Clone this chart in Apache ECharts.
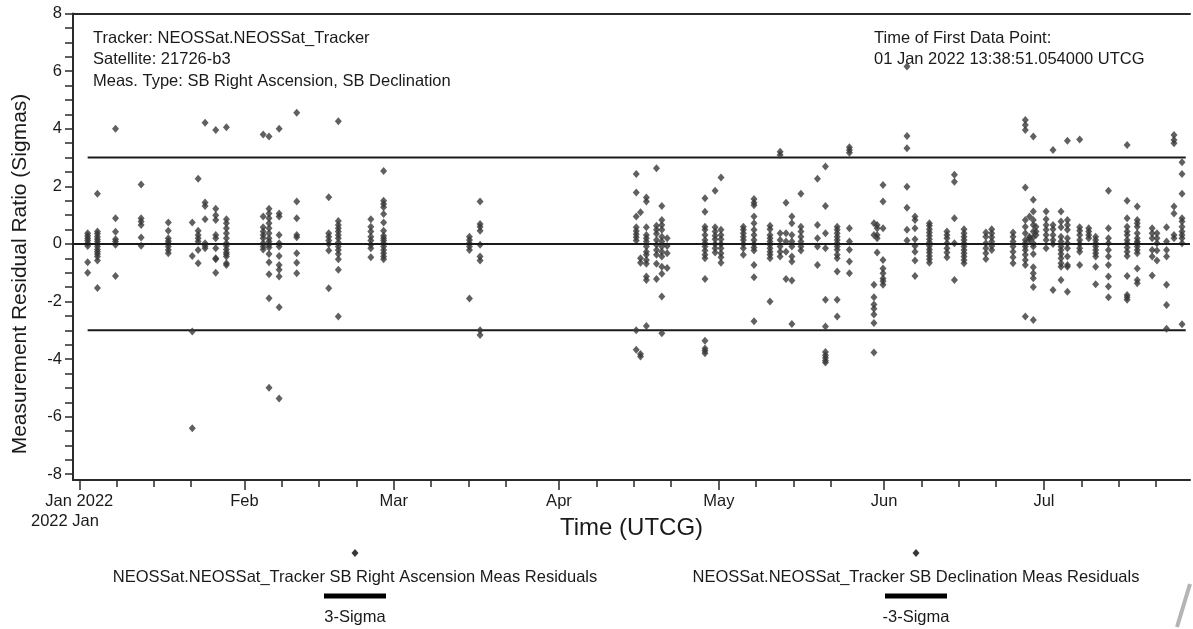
<!DOCTYPE html>
<html><head><meta charset="utf-8">
<script src="https://cdn.jsdelivr.net/npm/echarts@6/dist/echarts.min.js"></script>
<style>html,body{margin:0;padding:0;background:#fff}#c{width:1193px;height:629px}</style>
</head><body><div id="c"></div>
<script>
// ---- axis definitions ----
const monthTicks = ['2022-01-01','2022-02-01','2022-03-01','2022-04-01','2022-05-01','2022-06-01','2022-07-01'];
const monthLabels = ['Jan 2022','Feb','Mar','Apr','May','Jun','Jul'];
const weekTickDaysOfMonth = [8, 15, 22];
const yLabelValues = [-8, -6, -4, -2, 0, 2, 4, 6, 8];
const yRange = [-8.2, 8];
const xRangeDays = [-1.18, 208.4];      // days since 2022-01-01 00:00 UTC
// ---- sigma limits ----
const sigmaLevels = [3, -3];
const sigmaSpanDays = [1.57, 207.6];
// ---- residuals: [day since 2022-01-01, [sigma ratios]] ----
const raPasses = [
 [1.57,[0.37,0.20,0.02,-0.64]],
 [3.4,[1.74,0.35,0.16,0,-0.19,-0.35,-0.58]],
 [6.8,[4.0,0.42,0.08,-1.11]],
 [11.6,[2.06,0.78,0.22]],
 [16.7,[0.74,0.2,0.02,-0.21]],
 [21.2,[0.74,-3.04]],
 [22.3,[2.26,0.31,0.08,-0.67]],
 [23.6,[4.21,1.32,0.02,-0.15]],
 [25.6,[3.96,1.0,0.31,-0.15,-0.53]],
 [27.6,[4.05,0.72,0.37,0.02,-0.19,-0.36,-0.67]],
 [34.5,[3.8,0.58,0.31,0.02,-0.19]],
 [35.6,[3.73,1.06,0.72,0.37,0.08,-0.12,-0.64,-1.89]],
 [37.5,[4.0,0.95,0.02,-0.42,-0.9,-2.2]],
 [40.8,[4.56,0.89,0.23,-0.65]],
 [46.8,[1.62,0.25,0,-1.54]],
 [48.6,[4.26,0.66,0.43,0.2,-0.09,-0.35,-0.9]],
 [54.7,[0.86,0.43,0.12,-0.15]],
 [57.1,[2.53,1.39,1.04,0.46,0.2,0.02,-0.21,-0.44]],
 [73.2,[0.25,0.02,-0.21]],
 [75.2,[1.47,0.6,-0.03,-0.58,-3.16]],
 [104.5,[2.43,0.95,0.45,0.23,-3.0]],
 [105.3,[1.1,-0.65,-3.91]],
 [106.4,[1.61,0.58,0.2,-0.09,-0.38,-0.69,-1.25]],
 [108.3,[2.63,0.49,0.14,-0.21,-0.69]],
 [109.3,[1.32,0.66,0.25,-0.09,-0.44,-1.04,-3.1]],
 [110.3,[0.2,-0.32]],
 [117.4,[1.59,0.6,0.31,0.02,-0.23,-0.5,-3.36,-3.71]],
 [119.3,[1.85,0.43,0.16,-0.15]],
 [120.4,[2.31,0.31,0,-0.32,-0.65]],
 [124.6,[0.6,0.37,0.14,-0.15]],
 [126.6,[1.56,1.34,0.72,0.31,0,-0.23,-1.16]],
 [129.6,[0.63,0.31,0.08,-0.15,-0.38,-2.0]],
 [131.5,[3.2,0.37,-0.09,-0.44]],
 [132.6,[1.43,0.08,-1.22]],
 [133.7,[0.95,0.31,-0.09,-0.61,-2.78]],
 [135.4,[1.74,0.43,0.08,-0.23]],
 [138.5,[2.26,0.2,-0.73]],
 [140.0,[2.69,0.37,-1.94,-3.75,-3.95,-4.12]],
 [142.2,[0.6,0.37,0.14,-0.09,-0.38,-0.96,-2.52]],
 [144.5,[3.36,3.17,0.08,-0.61]],
 [149.1,[0.72,-1.42,-2.1,-2.45,-3.77]],
 [149.7,[0.66,0.31,-0.3]],
 [150.8,[2.05,0.54,-0.85,-1.2,-1.42]],
 [155.3,[6.16,3.32,1.26,0.12]],
 [156.8,[0.95,0.54,-0.07,-0.58]],
 [159.5,[0.72,0.51,0.28,0.05,-0.19,-0.42,-0.65]],
 [162.8,[0.43,0.2,-0.15,-0.46]],
 [164.2,[2.4,0.89,-1.25]],
 [166.0,[0.51,0.25,0.02,-0.21,-0.44,-0.67]],
 [170.1,[0.4,0.02,-0.32]],
 [171.2,[0.51,0.23,-0.07]],
 [175.2,[0.4,0.08,-0.27,-0.67]],
 [177.5,[4.3,3.96,0.83,0.37,0.02,-0.21,-0.56,-2.52]],
 [178.3,[0.95,0.2]],
 [179.0,[3.73,1.13,0.66,0.23,-0.09,-0.81,-1.19,-2.64]],
 [179.5,[0.6,0.31]],
 [181.4,[1.13,0.66,0.31,-0.15]],
 [182.7,[3.26,0.51,0.14,-1.6]],
 [184.2,[1.13,0.58,0.08,-0.21,-0.5,-0.79]],
 [185.4,[3.58,0.66,0.2,-0.15,-0.73,-1.66]],
 [187.7,[3.63,0.46,0.14,-0.15,-0.73]],
 [189.4,[0.54,0.31]],
 [190.7,[0.25,0.02,-0.21,-0.44,-1.4]],
 [193.1,[1.85,0.2,-0.21,-0.73,-1.48]],
 [196.6,[3.44,0.89,0.43,0.14,-0.12,-0.42,-1.77,-1.94]],
 [198.5,[1.3,0.72,0.37,0.08,-0.09,-0.32,-1.25]],
 [201.3,[0.54,0.2,-0.44]],
 [202.2,[0.37,0.02,-0.58]],
 [204.0,[0.58,-0.21,-1.42,-2.95]],
 [205.4,[3.78,3.5,1.06,0.2]],
 [206.9,[2.84,1.74,0.78,0.43,0.2,-2.79]]
];
const decPasses = [
 [1.57,[0.28,0.12,-0.07,-1.0]],
 [3.4,[0.43,0.25,0.08,-0.09,-0.27,-0.44,-1.53]],
 [6.8,[0.89,0.16,-0.03]],
 [11.6,[0.89,0.66,-0.06]],
 [16.7,[0.46,0.1,-0.09,-0.32]],
 [21.2,[-0.42,-6.4]],
 [22.3,[0.46,0.2,-0.21]],
 [23.6,[1.44,0.86,-0.07]],
 [25.6,[1.22,0.83,0.2,-0.5,-1.0]],
 [27.6,[0.86,0.54,0.2,-0.07,-0.3,-0.44,-0.73]],
 [34.5,[0.95,0.43,0.2,-0.09]],
 [35.6,[1.22,0.89,0.54,0.2,-0.03,-0.35,-1.05,-5.0]],
 [37.5,[1.06,0.31,-0.09,-0.73,-1.13,-5.37]],
 [40.8,[1.47,0.31,-0.32,-1.02]],
 [46.8,[0.37,0.12,-0.23]],
 [48.6,[0.8,0.54,0.31,0.05,-0.21,-0.53,-2.52]],
 [54.7,[0.6,0.25,-0.03,-0.46]],
 [57.1,[1.5,1.27,0.74,0.28,0.12,-0.09,-0.32,-0.53]],
 [73.2,[0.14,-0.09,-1.9]],
 [75.2,[0.69,0.46,-0.44,-3.0]],
 [104.5,[1.79,0.58,0.34,0.12,-3.68]],
 [105.3,[-0.5,-3.82]],
 [106.4,[1.47,0.31,0.08,-0.27,-0.56,-1.13,-2.85]],
 [108.3,[0.63,0.35,-0.03,-0.38,-1.22]],
 [109.3,[0.83,0.49,0.08,-0.27,-0.79,-1.83]],
 [110.3,[-0.07,-0.84]],
 [117.4,[1.12,0.49,0.14,-0.09,-0.38,-1.22,-3.63,-3.8]],
 [119.3,[0.58,0.28,0,-0.3]],
 [120.4,[0.49,0.16,-0.15,-0.46]],
 [124.6,[0.49,0.25,0,-0.38]],
 [126.6,[1.43,0.95,0.49,0.14,-0.12,-0.73,-2.69]],
 [129.6,[0.51,0.2,-0.03,-0.27,-0.5]],
 [131.5,[3.09,0.14,-0.27]],
 [132.6,[0.37,-0.27]],
 [133.7,[0.72,0.08,-0.44,-1.27]],
 [135.4,[0.6,0.25,-0.09]],
 [138.5,[0.66,-0.09]],
 [140.0,[1.32,-0.15,-2.87,-3.87,-4.05]],
 [142.2,[0.49,0.25,0.02,-0.2,-0.5,-1.94]],
 [144.5,[3.26,0.54,-0.2,-1.02]],
 [149.1,[0.31,-1.85,-2.25,-2.75]],
 [149.7,[0.54,0.2]],
 [150.8,[1.47,-0.56,-1.02,-1.3]],
 [155.3,[3.75,1.99,0.49]],
 [156.8,[0.83,0.16,-0.27,-1.11]],
 [159.5,[0.63,0.4,0.16,-0.07,-0.3,-0.53]],
 [162.8,[0.31,0.02,-0.3]],
 [164.2,[2.16,0.02]],
 [166.0,[0.37,0.14,-0.09,-0.32,-0.56]],
 [170.1,[0.25,-0.15,-0.52]],
 [171.2,[0.37,0.08,-0.21]],
 [175.2,[0.25,-0.09,-0.46]],
 [177.5,[4.13,1.96,0.6,0.14,-0.09,-0.38,-0.73]],
 [178.3,[0.25,0.14]],
 [179.0,[1.53,0.83,0.43,0.02,-0.35,-1.02,-1.5]],
 [179.5,[0.43]],
 [181.4,[0.86,0.49,0.14]],
 [182.7,[0.66,0.31,0]],
 [184.2,[0.78,0.25,-0.09,-0.35,-0.67,-1.25]],
 [185.4,[0.83,0.49,0.02,-0.44,-0.79]],
 [187.7,[0.58,0.31,0,-0.27]],
 [189.4,[0.43,0.2]],
 [190.7,[0.14,-0.09,-0.32,-0.79]],
 [193.1,[0.54,0.02,-0.44,-1.13,-1.85]],
 [196.6,[1.5,0.6,0.31,0.02,-0.27,-1.11,-1.85]],
 [198.5,[0.83,0.6,0.2,0.02,-0.21,-0.85,-1.37]],
 [201.3,[0.37,-0.21,-1.1]],
 [202.2,[0.2,-0.23]],
 [204.0,[0.08,-0.44,-2.12]],
 [205.4,[3.61,1.3,0.31]],
 [206.9,[2.43,0.89,0.6,0.31,0.02]]
];
// ---- texts ----
const headerLeft = ['Tracker: NEOSSat.NEOSSat_Tracker','Satellite: 21726-b3','Meas. Type: SB Right Ascension, SB Declination'];
const headerRight = ['Time of First Data Point:','01 Jan 2022 13:38:51.054000 UTCG'];
const seriesNames = ['NEOSSat.NEOSSat_Tracker SB Right Ascension Meas Residuals','NEOSSat.NEOSSat_Tracker SB Declination Meas Residuals'];
const sigmaNames = ['3-Sigma','-3-Sigma'];

// ---- build ----
const DAY = 86400000, BASE = Date.UTC(2022,0,1);
const toDay = s => (Date.parse(s + 'T00:00:00Z') - BASE) / DAY;
const monthDays = monthTicks.map(toDay);
const weekDays = [];
monthTicks.forEach(m => weekTickDaysOfMonth.forEach(d => weekDays.push(toDay(m.slice(0,8) + String(d).padStart(2,'0')))));
const flatten = passes => { const out = []; passes.forEach(([d, vs]) => vs.forEach(v => out.push([d, v]))); return out; };
const yTickValues = []; for (let v = -8; v <= 8; v += 0.5) yTickValues.push(v);

const FONT = '"Liberation Sans", Arial, sans-serif';
const FS = 16.5;
const INK = '#1a1a1a';
const MARK = '#383838';
const chart = echarts.init(document.getElementById('c'), null, {renderer: 'canvas'});

const graphics = [];
headerLeft.forEach((t, i) => graphics.push({type:'text', x: 93, y: 38 + i * 21.5, style:{text:t, font: FS + 'px ' + FONT, fill: INK, textVerticalAlign:'middle'}}));
headerRight.forEach((t, i) => graphics.push({type:'text', x: 874, y: 38 + i * 21.5, style:{text:t, font: FS + 'px ' + FONT, fill: INK, textVerticalAlign:'middle'}}));
graphics.push({type:'text', x: 31, y: 521, style:{text:'2022 Jan', font: FS + 'px ' + FONT, fill: INK, textVerticalAlign:'middle'}});
graphics.push({type:'text', x: 20, y: 274, rotation: Math.PI/2, style:{text:'Measurement Residual Ratio (Sigmas)', font:'21px ' + FONT, fill: INK, textAlign:'center', textVerticalAlign:'middle'}});
// legend block
[355, 916].forEach((cx, i) => {
  graphics.push({type:'polygon', shape:{points:[[cx,549],[cx+3.5,553],[cx,557],[cx-3.5,553]]}, style:{fill: MARK}});
  graphics.push({type:'text', x: cx, y: 577, style:{text: seriesNames[i], font: FS + 'px ' + FONT, fill: INK, textAlign:'center', textVerticalAlign:'middle'}});
  graphics.push({type:'rect', shape:{x: cx - 31, y: 593.5, width: 62, height: 5}, style:{fill:'#000'}});
  graphics.push({type:'text', x: cx, y: 617, style:{text: sigmaNames[i], font: FS + 'px ' + FONT, fill: INK, textAlign:'center', textVerticalAlign:'middle'}});
});
graphics.push({type:'line', shape:{x1:1190, y1:584, x2:1177, y2:627}, style:{stroke:'#b4b4b4', lineWidth:4}});

const axisLineStyle = {color:'#2a2a2a', width:2};
const option = {
  animation: false,
  backgroundColor: '#fff',
  grid: {left: 73, right: 3, top: 13.6, bottom: 149, containLabel: false},
  xAxis: [
    {type:'value', min: xRangeDays[0], max: xRangeDays[1], position:'bottom',
     name:'Time (UTCG)', nameLocation:'middle', nameGap: 36,
     nameTextStyle:{fontFamily: FONT, fontSize: 24, color: INK},
     axisLine:{show:true, onZero:false, lineStyle: axisLineStyle},
     axisTick:{show:true, customValues: monthDays, length: 10, lineStyle:{color:'#2a2a2a', width:1.5}},
     axisLabel:{show:true, customValues: monthDays, margin: 13, fontFamily: FONT, fontSize: FS, color: INK,
       formatter: v => { const i = monthDays.findIndex(m => Math.abs(m - v) < 1e-6); return i >= 0 ? monthLabels[i] : ''; }},
     splitLine:{show:false}},
    {type:'value', min: xRangeDays[0], max: xRangeDays[1], position:'bottom',
     axisLine:{show:false, onZero:false}, axisTick:{show:true, customValues: weekDays, length: 7, lineStyle:{color:'#2a2a2a', width:1.5}},
     axisLabel:{show:false}, splitLine:{show:false}},
    {type:'value', min: xRangeDays[0], max: xRangeDays[1], position:'top',
     axisLine:{show:true, onZero:false, lineStyle: axisLineStyle}, axisTick:{show:false}, axisLabel:{show:false}, splitLine:{show:false}}
  ],
  yAxis: {type:'value', min: yRange[0], max: yRange[1],
     axisLine:{show:true, onZero:false, lineStyle: axisLineStyle},
     axisTick:{show:true, customValues: yTickValues, length: 8, lineStyle:{color:'#2a2a2a', width:1.5}},
     axisLabel:{show:true, customValues: yLabelValues, margin: 11, fontFamily: FONT, fontSize: FS, color: INK},
     splitLine:{show:false}},
  graphic: graphics,
  series: [
    {name: seriesNames[0], type:'scatter', data: flatten(raPasses), symbol:'diamond', symbolSize:[7,8],
     itemStyle:{color: MARK}, z: 3,
     markLine:{silent:true, symbol:['none','none'], label:{show:false}, lineStyle:{color:'#1a1a1a', width:2, type:'solid'}, data:[{yAxis:0}]}},
    {name: seriesNames[1], type:'scatter', data: flatten(decPasses), symbol:'diamond', symbolSize:[7,8],
     itemStyle:{color: MARK}, z: 3},
    ...sigmaLevels.map((lv, i) => ({name: sigmaNames[i], type:'line', data: sigmaSpanDays.map(d => [d, lv]), symbol:'none',
     lineStyle:{color:'#1a1a1a', width:2}, z: 2}))
  ]
};
chart.setOption(option);
</script>
</body></html>
